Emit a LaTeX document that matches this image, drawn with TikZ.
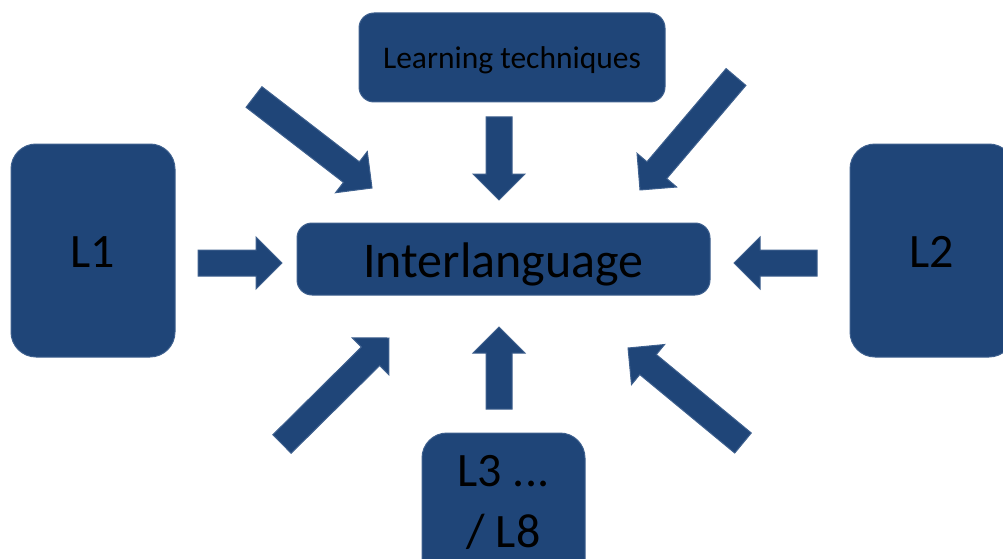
\documentclass[tikz,border=0pt]{standalone}
\usepackage{fontspec}
\setmainfont{Carlito}
\usetikzlibrary{calc}
\definecolor{boxblue}{RGB}{31,69,120}
\definecolor{edgeblue}{RGB}{62,96,142}
\tikzset{
  box/.style={draw=edgeblue, line width=1pt, fill=boxblue, rounded corners=#1, inner sep=0pt, text=black},
  box/.default=15pt,
  blockarrowstyle/.style={fill=boxblue, draw=edgeblue, line width=1pt, line join=miter}
}
\newcommand\blockarrow[2]{%
  \path[blockarrowstyle] let \p1=(#1), \p2=(#2),
      \n1={atan2(\y2-\y1,\x2-\x1)}, \n2={veclen(\x2-\x1,\y2-\y1)} in
    [shift={(\p1)}, rotate=\n1]
    (0pt,-13pt) -- (\n2-26pt,-13pt) -- (\n2-26pt,-26pt) -- (\n2,0pt)
    -- (\n2-26pt,26pt) -- (\n2-26pt,13pt) -- (0pt,13pt) -- cycle;}
\begin{document}
\begin{tikzpicture}[x=1pt,y=-1pt]
\useasboundingbox (0,0) rectangle (1003,559);
\clip (0,0) rectangle (1003,559);

% boxes
\node[box=25pt, minimum width=164pt, minimum height=213pt, font=\fontsize{48}{58}\selectfont,
      text height=33.5pt, text depth=0pt] (l1) at (93,250.5) {L1};
\node[box=25pt, minimum width=164pt, minimum height=213pt, font=\fontsize{48}{58}\selectfont,
      text height=33.5pt, text depth=0pt] (l2) at (932,250.5) {L2};
\node[box=15pt, minimum width=413pt, minimum height=72pt, font=\fontsize{50}{60}\selectfont,
      text height=37.6pt, text depth=0pt] (inter) at (503.5,259) {Interlanguage};
\node[box=15pt, minimum width=306pt, minimum height=89pt, font=\fontsize{31.5}{38}\selectfont,
      text height=23pt, text depth=0pt] (learn) at (512,57.5) {Learning techniques};
\node[box=25pt, minimum width=163pt, minimum height=180pt] (l3) at (503.5,523) {};
\node[align=center, inner sep=0pt, text=black, anchor=north, font=\fontsize{48}{61}\selectfont]
      (l3text) at (503.5,455) {L3 ...\\ / L8};

% arrow end points
\coordinate (tlA) at (254,97);  \coordinate (tlB) at (372,188);
\coordinate (tA)  at (499,117); \coordinate (tB)  at (499,200);
\coordinate (trA) at (736,77);  \coordinate (trB) at (640,190);
\coordinate (lA)  at (198,263); \coordinate (lB)  at (282,263);
\coordinate (rA)  at (817,263); \coordinate (rB)  at (734,263);
\coordinate (blA) at (282,444); \coordinate (blB) at (389,338);
\coordinate (bA)  at (499,409); \coordinate (bB)  at (499,327);
\coordinate (brA) at (743,443); \coordinate (brB) at (628,348);

\blockarrow{tlA}{tlB}
\blockarrow{tA}{tB}
\blockarrow{trA}{trB}
\blockarrow{lA}{lB}
\blockarrow{rA}{rB}
\blockarrow{blA}{blB}
\blockarrow{bA}{bB}
\blockarrow{brA}{brB}
\end{tikzpicture}
\end{document}
